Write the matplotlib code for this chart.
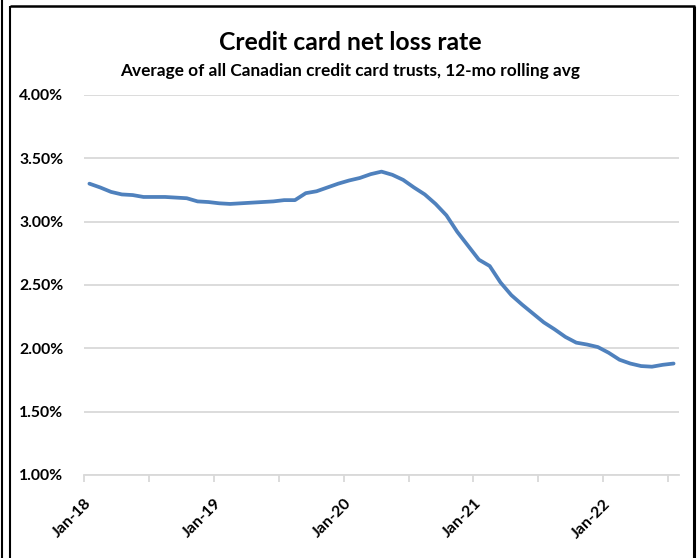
import matplotlib
matplotlib.use("Agg")
import matplotlib.pyplot as plt
from matplotlib.lines import Line2D
from matplotlib.ticker import FuncFormatter, FixedLocator

plt.rcParams['font.family'] = ['Lato', 'DejaVu Sans']

# Monthly series, Jan-2018 .. Jul-2022 (12-month rolling average, %)
months = [f"{m}-{y}" for y in range(18, 23)
          for m in ["Jan", "Feb", "Mar", "Apr", "May", "Jun",
                    "Jul", "Aug", "Sep", "Oct", "Nov", "Dec"]][:55]
loss_rate = [
    3.30, 3.27, 3.235, 3.215, 3.21, 3.195, 3.195, 3.195, 3.19, 3.185, 3.16, 3.155,
    3.145, 3.14, 3.145, 3.15, 3.155, 3.16, 3.17, 3.17, 3.225, 3.24, 3.27, 3.30,
    3.325, 3.345, 3.375, 3.395, 3.37, 3.33, 3.27, 3.215, 3.14, 3.05, 2.92, 2.81,
    2.70, 2.65, 2.52, 2.42, 2.345, 2.275, 2.205, 2.15, 2.09, 2.045, 2.03, 2.01,
    1.965, 1.91, 1.88, 1.86, 1.855, 1.87, 1.88,
]
y_ticks = [1.0, 1.5, 2.0, 2.5, 3.0, 3.5, 4.0]
x_label_idx = [0, 12, 24, 36, 48]

title = "Credit card net loss rate"
subtitle = "Average of all Canadian credit card trusts, 12-mo rolling avg"

W, H = 700, 558
fig = plt.figure(figsize=(W / 100, H / 100), dpi=100)
fig.patch.set_facecolor("white")

ax = fig.add_axes([84 / W, 1 - 475 / H, (679 - 84) / W, (475 - 95) / H])
x = list(range(len(loss_rate)))
ax.plot(x, loss_rate, color="#4f81bd", lw=2.7, solid_capstyle="round",
        solid_joinstyle="round", zorder=3)

ax.set_xlim(-0.5, len(loss_rate) - 0.5)
ax.set_ylim(y_ticks[0], y_ticks[-1])
ax.set_yticks(y_ticks)
ax.yaxis.set_major_formatter(FuncFormatter(lambda v, p: f"{v:.2f}%"))
ax.grid(axis="y", color="#d9d9d9", lw=1.3, zorder=1)
ax.set_axisbelow(True)

for s in ["top", "right", "left"]:
    ax.spines[s].set_visible(False)
ax.spines["bottom"].set_color("#d9d9d9")
ax.spines["bottom"].set_linewidth(1.3)

ax.tick_params(axis="y", length=0, pad=15, labelsize=11.3)
for lab in ax.get_yticklabels():
    lab.set_fontweight("bold")

# month labels at category centres, tick marks at half-year boundaries
ax.set_xticks(x_label_idx)
ax.set_xticklabels([months[i] for i in x_label_idx], rotation=45,
                   ha="right", va="center", rotation_mode="anchor",
                   fontweight="bold", fontsize=11.5)
ax.tick_params(axis="x", length=0, pad=19)
ax.xaxis.set_minor_locator(FixedLocator([i - 0.5 for i in range(0, 56, 6)]))
ax.tick_params(axis="x", which="minor", length=5, width=1.3, color="#d9d9d9")

fig.text(0.5, 1 - 43 / H, title, ha="center", va="center",
         fontsize=17.8, fontweight="bold")
fig.text(0.5, 1 - 71 / H, subtitle, ha="center", va="center",
         fontsize=12.4, fontweight="bold")

# frame lines around the chart
def px_line(xs, ys, lw):
    fig.add_artist(Line2D([v / W for v in xs], [1 - v / H for v in ys],
                          color="black", lw=lw, transform=fig.transFigure,
                          solid_capstyle="butt"))

px_line([1.5, 1.5], [0, H], 1.5)
px_line([10, 10], [6, H], 1.5)
px_line([9.5, 695], [6, 6], 1.8)
px_line([694, 694], [5.5, H], 2.2)

fig.savefig("out.png", dpi=100, facecolor="white")
